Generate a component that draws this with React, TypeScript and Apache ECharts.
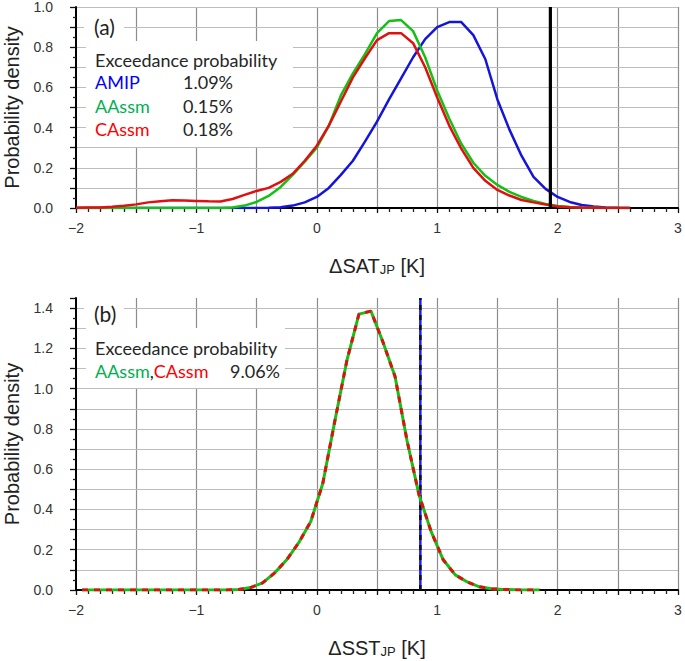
import React, { useEffect, useRef } from "react";
import * as echarts from "echarts";

// ---- Panel (a): ΔSAT_JP ----
const xGridA: number[] = Array.from({ length: 51 }, (_, i) => Math.round((-2 + i * 0.1) * 10) / 10);
const amipA: (number | null)[] = [
  0, 0, 0, 0, 0, 0, 0, 0, 0, 0, 0, 0, 0, 0, 0, 0,
  0.001, 0.004, 0.012, 0.028, 0.055, 0.1, 0.165, 0.235, 0.33, 0.43, 0.54, 0.645, 0.75, 0.84, 0.9,
  0.925, 0.925, 0.86, 0.74, 0.54, 0.39, 0.26, 0.155, 0.095, 0.055, 0.03, 0.015, 0.007, 0.003, 0.001,
  0, null, null, null, null,
];
const aassmA: (number | null)[] = [
  0, 0, 0, 0, 0, 0, 0, 0, 0, 0, 0, 0, 0,
  0.003, 0.012, 0.03, 0.06, 0.105, 0.165, 0.23, 0.3, 0.41, 0.56, 0.67, 0.765, 0.87, 0.93, 0.935,
  0.88, 0.75, 0.585, 0.445, 0.32, 0.225, 0.16, 0.115, 0.08, 0.055, 0.035, 0.02, 0.01, 0.005, 0.002,
  0.001, 0, 0, 0, null, null, null, null,
];
const cassmA: (number | null)[] = [
  0.001, 0.002, 0.003, 0.006, 0.011, 0.018, 0.028, 0.034, 0.038, 0.037, 0.035, 0.033, 0.032,
  0.045, 0.065, 0.085, 0.1, 0.13, 0.17, 0.235, 0.31, 0.41, 0.53, 0.65, 0.745, 0.835, 0.87, 0.87,
  0.82, 0.7, 0.55, 0.41, 0.295, 0.2, 0.135, 0.09, 0.062, 0.04, 0.028, 0.017, 0.007, 0.004, 0.002,
  0.001, 0, 0, 0, null, null, null, null,
];
const thresholdA = 1.94;
const exceedA = { AMIP: "1.09%", AAssm: "0.15%", CAssm: "0.18%" };

// ---- Panel (b): ΔSST_JP ----
const xGridB: number[] = Array.from({ length: 39 }, (_, i) => Math.round((-1.95 + i * 0.1) * 100) / 100);
const assmB: number[] = [
  0, 0, 0, 0, 0, 0, 0, 0, 0, 0, 0, 0, 0,
  0.002, 0.012, 0.035, 0.085, 0.15, 0.235, 0.34, 0.53, 0.84, 1.14, 1.37, 1.385, 1.23, 1.06, 0.74,
  0.47, 0.29, 0.15, 0.075, 0.04, 0.016, 0.006, 0.003, 0.001, 0, 0,
];
const thresholdB = 0.86;
const exceedB = "9.06%";

const xTickLabels: Record<string, string> = { "-2": "\u22122", "-1": "\u22121", "0": "0", "1": "1", "2": "2", "3": "3" };

const pair = (xs: number[], ys: (number | null)[]) => xs.map((x, i) => [x, ys[i]]);

const SANS = "Liberation Sans";
const LEG = "Lato";

function mkX(idx: number, main: string) {
  return {
    type: "value",
    gridIndex: idx,
    position: "bottom",
    min: -2,
    max: 3,
    interval: 0.5,
    z: 1,
    axisLine: { show: true, onZero: false, lineStyle: { color: "#000", width: 2 } },
    axisTick: { show: true, length: 5, lineStyle: { color: "#111", width: 1.3 } },
    minorTick: { show: true, splitNumber: 5, length: 4, lineStyle: { color: "#222", width: 1.3 } },
    splitLine: { show: true, showMinLine: false, lineStyle: { color: "#8c8c8c", width: 1.2 } },
    axisLabel: {
      margin: 13,
      fontSize: 14,
      fontFamily: SANS,
      color: "#333",
      formatter: (v: number) => {
        const k = String(Math.round(v * 10) / 10);
        return xTickLabels[k] ?? "";
      },
    },
    name: `{m|${main}}{s|JP}{m| [K]}`,
    nameLocation: "middle",
    nameGap: 40,
    nameTextStyle: {
      rich: {
        m: { fontSize: 20, fontFamily: SANS, color: "#222", lineHeight: 28, verticalAlign: "bottom" },
        s: { fontSize: 13, fontFamily: SANS, color: "#222", lineHeight: 14, verticalAlign: "bottom" },
      },
    },
  };
}

function mkY(idx: number, max: number) {
  return {
    type: "value",
    gridIndex: idx,
    position: "left",
    min: 0,
    max,
    interval: 0.1,
    z: 2,
    axisLine: { show: true, onZero: false, lineStyle: { color: "#000", width: 2 } },
    axisTick: { show: true, inside: false, length: 6, lineStyle: { color: "#111", width: 1.3 } },
    minorTick: { show: true, splitNumber: 2, length: 3, lineStyle: { color: "#222", width: 1.3 } },
    splitLine: { show: true, showMinLine: false, showMaxLine: max === 1, lineStyle: { color: "#bdbdbd", width: 1.2 } },
    axisLabel: {
      margin: 23,
      fontSize: 14,
      fontFamily: SANS,
      color: "#333",
      formatter: (v: number) => {
        const r = Math.round(v * 100);
        return r % 20 === 0 ? (r / 100).toFixed(1) : "";
      },
    },
    name: "Probability density",
    nameLocation: "middle",
    nameGap: 54,
    nameTextStyle: { fontSize: 20, fontFamily: SANS, color: "#222" },
  };
}

const BLUE = "#1414dc";
const GREEN = "#14c014";
const RED = "#e01010";

function lineSeries(name: string, xi: number, data: any[], color: string, width: number, type: any = "solid", z = 3) {
  return {
    name,
    type: "line",
    xAxisIndex: xi,
    yAxisIndex: xi,
    data,
    showSymbol: false,
    symbol: "none",
    connectNulls: false,
    z,
    lineStyle: { color, width, type },
  };
}

function txt(x: number, y: number, text: string, fill: string, size = 18, extra: any = {}) {
  return {
    type: "text",
    x,
    y,
    z: 101,
    style: { text, fill, fontSize: size, fontFamily: LEG, verticalAlign: "middle", ...extra },
  };
}

function rect(x: number, y: number, w: number, h: number) {
  return { type: "rect", z: 100, shape: { x, y, width: w, height: h }, style: { fill: "#fff" } };
}

export default function App() {
  const ref = useRef<HTMLDivElement>(null);
  useEffect(() => {
    if (!ref.current) return;
    const chart = echarts.init(ref.current, undefined, { renderer: "svg" });
    const option: any = {
      animation: false,
      grid: [
        { left: 76, top: 7, width: 602, height: 201, containLabel: false, outerBoundsMode: "none" },
        { left: 76, top: 298, width: 602, height: 292, containLabel: false, outerBoundsMode: "none" },
      ],
      xAxis: [mkX(0, "\u0394SAT"), mkX(1, "\u0394SST")],
      yAxis: [mkY(0, 1.0), mkY(1, 1.45)],
      series: [
        lineSeries("AMIP", 0, pair(xGridA, amipA), BLUE, 2.5, "solid", 3),
        lineSeries("AAssm", 0, pair(xGridA, aassmA), GREEN, 2.5, "solid", 4),
        lineSeries("CAssm", 0, pair(xGridA, cassmA), RED, 2.5, "solid", 5),
        lineSeries("threshold SAT", 0, [[thresholdA, 0], [thresholdA, 1.0]], "#000", 3.2, "solid", 6),
        lineSeries("threshold SST blue", 1, [[thresholdB, 0], [thresholdB, 1.45]], "#1a1aff", 2.5, "solid", 3),
        lineSeries("threshold SST black", 1, [[thresholdB, 0], [thresholdB, 1.45]], "#111", 2.5, [5, 5], 4),
        lineSeries("AAssm SST", 1, pair(xGridB, assmB), GREEN, 3, "solid", 5),
        lineSeries("CAssm SST", 1, pair(xGridB, assmB), RED, 3, [6, 6], 6),
      ],
      graphic: [
        rect(84, 11, 40, 30),
        rect(86, 41, 207, 106),
        txt(94, 26, "(a)", "#222", 21),
        txt(95, 60, "Exceedance probability", "#262626"),
        txt(95, 82, "AMIP", "#0000ff"),
        txt(183, 82, exceedA.AMIP, "#262626"),
        txt(95, 106, "AAssm", "#00b050"),
        txt(183, 106, exceedA.AAssm, "#262626"),
        txt(95, 129, "CAssm", "#ff0000"),
        txt(183, 129, exceedA.CAssm, "#262626"),

        rect(84, 297, 40, 30),
        rect(86, 328, 199, 60),
        txt(94, 313, "(b)", "#222", 21),
        txt(95, 348, "Exceedance probability", "#262626"),
        txt(95, 371, "{g|AAssm},{r|CAssm}", "#262626", 18, {
          rich: {
            g: { fill: "#00b050", fontSize: 18, fontFamily: LEG },
            r: { fill: "#ff0000", fontSize: 18, fontFamily: LEG },
          },
        }),
        txt(230, 371, exceedB, "#262626"),
      ],
    };
    chart.setOption(option);
    return () => chart.dispose();
  }, []);
  return <div ref={ref} style={{ position: "absolute", left: 0, top: 0, width: 685, height: 661 }} />;
}
